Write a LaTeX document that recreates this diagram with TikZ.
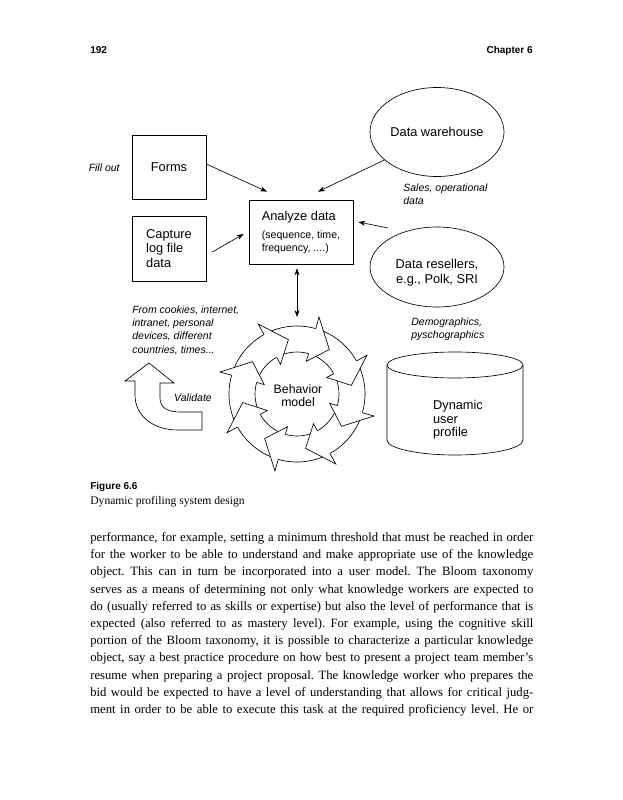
\documentclass[tikz,border=0pt]{standalone}
\usepackage{fontspec}
\setmainfont{Liberation Serif}
\setsansfont{Liberation Sans}
\usetikzlibrary{positioning,shapes.geometric,arrows.meta}

\begin{document}
\frenchspacing
\begin{tikzpicture}[x=1pt,y=-1pt,line width=0.65pt,
  mybox/.style={draw,minimum width=74pt,minimum height=64pt,inner sep=0pt,align=left,font=\sffamily\fontsize{12.8}{14.8}\selectfont},
  myoval/.style={draw,ellipse,minimum width=134pt,inner sep=0pt,font=\sffamily\fontsize{12.8}{15}\selectfont},
  mynote/.style={inner sep=0pt,align=left,font=\sffamily\itshape\fontsize{10.5}{13.4}\selectfont},
  myarrow/.style={-{Stealth[length=7pt,width=5pt]}},
  myhead/.style={inner sep=0pt,font=\sffamily\bfseries\fontsize{10}{12}\selectfont},
  mytext/.style={inner sep=0pt,anchor=base west,font=\fontsize{12.7}{14}\selectfont}]

  \fill[white] (0,0) rectangle (622,800);
  \useasboundingbox (0,0) rectangle (622,800);

  % running head
  \node[myhead,anchor=base west] (pgno) at (90,53) {192};
  \node[myhead,anchor=base east] (chap) at (533,53) {Chapter 6};

  % sources
  \node[mybox,align=center] (forms) at (169,167) {Forms};
  \node[mybox,minimum height=65pt] (capture) at (169,248.5) {Capture\\log file\\data};
  \node[mybox,minimum width=104pt,font=\sffamily\fontsize{10.6}{13}\selectfont] (analyze) at (301,232)
    {{\fontsize{12.8}{15}\selectfont Analyze data}\\[5pt](sequence, time,\\frequency, ....)};
  \node[myoval,minimum height=89pt] (warehouse) at (437,132) {Data warehouse};
  \node[myoval,minimum height=80pt] (resel) at (437,267) {};
  \node[align=center,inner sep=0pt,font=\sffamily\fontsize{12.8}{15}\selectfont] (reseltxt) at (437,273) {Data resellers,\\e.g., Polk, SRI};

  % notes
  \node[mynote,anchor=east] (fill) at (120,168) {Fill out};
  \node[mynote,anchor=west] (sales) at (403,194) {Sales, operational\\data};
  \node[mynote,anchor=west] (cookies) at (132,330) {From cookies, internet,\\intranet, personal\\devices, different\\countries, times...};
  \node[mynote,anchor=west] (demo) at (411,329) {Demographics,\\pyschographics};

  % cycle
  \coordinate (cyc) at (297,394);
  \draw[fill=white] (cyc) circle[radius=68pt];
  \draw (cyc) circle[radius=42pt];
  \foreach \b in {74,29,...,-241}
    \filldraw[fill=white] ([shift={(\b:68pt)}]cyc) -- ([shift={(\b:80pt)}]cyc)
      -- ([shift={(\b-20:55pt)}]cyc) -- ([shift={(\b:34pt)}]cyc) -- ([shift={(\b:42pt)}]cyc);
  \node[align=center,inner sep=0pt,font=\sffamily\fontsize{12.3}{13}\selectfont] (behav) at (298,396) {Behavior\\model};

  % validate arrow
  \draw[fill=white] (149,363) -- (174,383) -- (160,383) -- (160,398)
    .. controls (160,408) and (168,412) .. (180,412) -- (202,412) -- (202,430) -- (178,430)
    .. controls (152,430) and (135,415) .. (135,395) -- (135,381) -- (125,381) -- cycle;
  \node[mynote] (valid) at (193,398) {Validate};

  % profile store
  \draw[fill=white] (387,365) -- (387,440) arc[start angle=180,end angle=360,x radius=68pt,y radius=15pt] -- (523,365);
  \draw (455,365) ellipse[x radius=68pt,y radius=13pt];
  \node[align=left,inner sep=0pt,font=\sffamily\fontsize{12.8}{13.4}\selectfont] (profile) at (458,420) {Dynamic\\user\\profile};

  % arrows
  \draw[myarrow] ([yshift=3pt]forms.east) -- ([xshift=-34pt,yshift=8pt]analyze.north);
  \draw[myarrow] (warehouse.208) -- ([xshift=17pt,yshift=8pt]analyze.north);
  \draw[myarrow] ([xshift=6pt,yshift=-3.5pt]capture.east) -- ([xshift=-5pt,yshift=-2pt]analyze.west);
  \draw[myarrow] ([shift={(-49pt,39pt)}]resel.center) -- ([xshift=5pt,yshift=10pt]analyze.east);
  \draw[{Stealth[length=7pt,width=5pt]}-{Stealth[length=7pt,width=5pt]}] ([xshift=-4pt,yshift=-4pt]analyze.south) -- ([yshift=77pt]cyc);

  % caption
  \node[myhead,anchor=base west] (fig) at (90,489) {Figure 6.6};
  \node[mytext,font=\fontsize{11.6}{13}\selectfont] (cap) at (90,504.5) {Dynamic profiling system design};

  % body text
  \foreach \t [count=\i from 0] in {
    {performance, for example, setting a minimum threshold that must be reached in order},
    {for the worker to be able to understand and make appropriate use of the knowledge},
    {object. This can in turn be incorporated into a user model. The Bloom taxonomy},
    {serves as a means of determining not only what knowledge workers are expected to},
    {do (usually referred to as skills or expertise) but also the level of performance that is},
    {expected (also referred to as mastery level). For example, using the cognitive skill},
    {portion of the Bloom taxonomy, it is possible to characterize a particular knowledge},
    {object, say a best practice procedure on how best to present a project team member's},
    {resume when preparing a project proposal. The knowledge worker who prepares the},
    {bid would be expected to have a level of understanding that allows for critical judg-},
    {ment in order to be able to execute this task at the required proficiency level. He or}}
    \node[mytext] (line\i) at (90,{541.5+17.2*\i}) {\makebox[443pt][s]{\t}};
\end{tikzpicture}
\end{document}
